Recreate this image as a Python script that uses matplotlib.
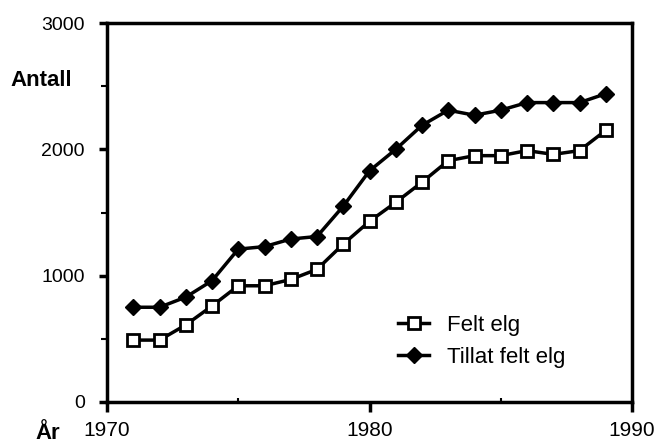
import matplotlib.pyplot as plt
from matplotlib.ticker import MultipleLocator

# data
years = list(range(1971, 1990))
felt = [490, 490, 610, 760, 920, 920, 970, 1050, 1250, 1430,
        1580, 1740, 1910, 1950, 1950, 1990, 1960, 1990, 2150]
tillat = [750, 750, 830, 960, 1210, 1230, 1290, 1310, 1550, 1830,
          2000, 2190, 2310, 2270, 2310, 2370, 2370, 2370, 2440]
xticks = [1970, 1980, 1990]
yticks = [0, 1000, 2000, 3000]

plt.rcParams['font.family'] = ['Liberation Sans', 'DejaVu Sans']

fig = plt.figure(figsize=(6.59, 4.43), dpi=100)
ax = fig.add_axes([107 / 659, 1 - 402 / 443, 525 / 659, 379 / 443])

ax.plot(years, tillat, color='black', lw=2.5, marker='D', ms=8.5,
        mfc='black', mec='black', label='Tillat felt elg', zorder=3)
ax.plot(years, felt, color='black', lw=2.5, marker='s', ms=8,
        mfc='white', mec='black', mew=2, label='Felt elg', zorder=3)

ax.set_xlim(1970, 1990)
ax.set_ylim(0, 3000)
ax.set_xticks(xticks)
ax.set_yticks(yticks)
ax.xaxis.set_minor_locator(MultipleLocator(5))
ax.yaxis.set_minor_locator(MultipleLocator(500))
ax.tick_params(axis='y', which='major', direction='out', length=6,
               width=2.5, labelsize=14, pad=10)
ax.tick_params(axis='x', which='major', direction='out', length=7,
               width=2.5, labelsize=15, pad=7)
ax.tick_params(axis='y', which='minor', direction='out', length=4, width=1.5)
ax.tick_params(axis='x', which='minor', direction='in', length=3, width=1.5)
for sp in ax.spines.values():
    sp.set_linewidth(2.5)

h, l = ax.get_legend_handles_labels()
ax.legend(h[::-1], l[::-1], loc='upper left', bbox_to_anchor=(0.555, 0.23),
          borderaxespad=0, borderpad=0, frameon=False, fontsize=16,
          handlelength=1.4, labelspacing=0.5, handletextpad=0.8)

fig.text(10 / 659, 1 - 81 / 443, 'Antall', fontsize=16, fontweight='bold',
         va='center', ha='left')
fig.text(35 / 659, 1 - 439 / 443, 'År', fontsize=16, fontweight='bold',
         va='baseline', ha='left')

fig.savefig('out.png', dpi=100)
